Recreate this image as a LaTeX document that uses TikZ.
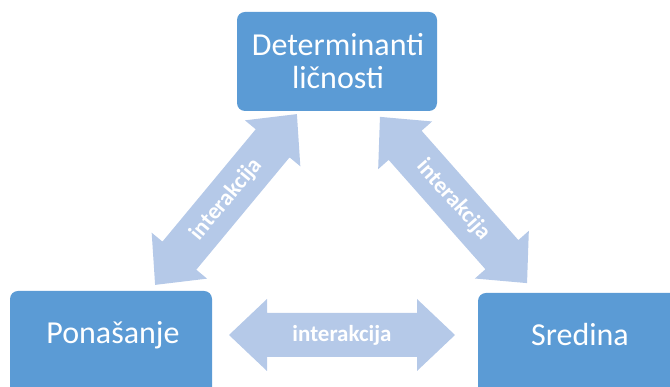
\documentclass[tikz,border=0pt]{standalone}
\usepackage{fontspec}
\setmainfont{Carlito}
\definecolor{boxblue}{RGB}{91,155,213}
\definecolor{arrowblue}{RGB}{181,201,232}
\tikzset{
  boxstyle/.style={draw=none, fill=boxblue, rounded corners=8pt, inner sep=0pt},
  boxtext/.style={text=white, font=\fontsize{32}{33}\selectfont, align=center, inner sep=0pt},
  arrowfill/.style={fill=arrowblue},
  arrowtext/.style={text=white, font=\bfseries\fontsize{23}{25}\selectfont, inner sep=0pt},
}
\newcommand\interarrow[4]{% #1 name, #2 center, #3 angle, #4 half length
  \begin{scope}[shift={#2}, rotate=#3]
    \fill[arrowfill] (-#4,0) -- (-#4+38,36) -- (-#4+38,22) -- (#4-38,22) -- (#4-38,36)
      -- (#4,0) -- (#4-38,-36) -- (#4-38,-22) -- (-#4+38,-22) -- (-#4+38,-36) -- cycle;
  \end{scope}
  \node[arrowtext, rotate=#3] (#1) at #2 {interakcija};
}
\begin{document}
\begin{tikzpicture}[x=1pt,y=1pt]
  \useasboundingbox (0,0) rectangle (670,387);
  \clip (0,0) rectangle (670,387);
  % boxes
  \node[boxstyle, minimum width=200pt, minimum height=99pt] (top) at (337,325.5) {};
  \node[boxtext] (toptext) at (338,326) {Determinanti\\ličnosti};
  \node[boxstyle, minimum width=202pt, minimum height=116pt] (left) at (111,38) {};
  \node[boxtext] (lefttext) at (113,52) {Ponašanje};
  \node[boxstyle, minimum width=212pt, minimum height=114pt] (right) at (584,37) {};
  \node[boxtext] (righttext) at (580,52) {Sredina};
  % interaction arrows
  \interarrow{harrow}{(342,52)}{0}{113}
  \interarrow{larrow}{(226,187.5)}{50.3}{111}
  \interarrow{rarrow}{(453.5,187)}{-48.5}{111}
\end{tikzpicture}
\end{document}
